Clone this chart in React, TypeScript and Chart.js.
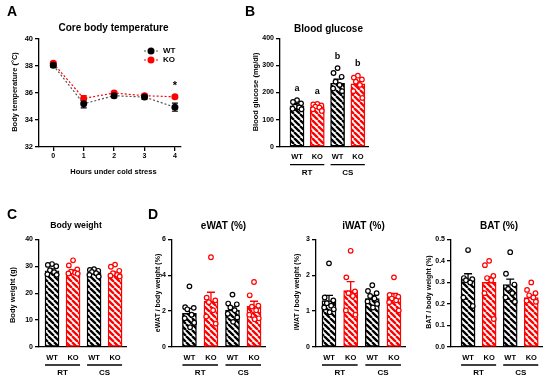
import React, { useEffect, useRef } from "react";
import { Chart, registerables } from "chart.js";
Chart.register(...registerables);

const W = 550;
const H = 381;
const BLACK = "#000000";
const GREY = "#555555";
const RED = "#FF0000";
const FONT = '"Liberation Sans", Arial, sans-serif';

// ---------- Panel A: core body temperature ----------
const HOURS = [0, 1, 2, 3, 4];
const SERIES = ["WT", "KO"];
const TEMP_WT = [38.05, 35.2, 35.8, 35.7, 34.95];
const TEMP_WT_SEM = [0.15, 0.3, 0.15, 0.15, 0.3];
const TEMP_KO = [38.2, 35.6, 36.0, 35.8, 35.72];
const TEMP_KO_SEM = [0.12, 0.2, 0.12, 0.12, 0.1];
const TEMP_SIG = ["", "", "", "", "*"];
const TEMP_TICKS = [32, 34, 36, 38, 40];

// ---------- shared categories ----------
const CATS = ["WT", "KO", "WT", "KO"];
const GROUPS = ["RT", "CS"];

// ---------- Panel B: blood glucose ----------
const GLU_MEAN = [151, 147, 234, 232];
const GLU_SEM = [8, 6, 15, 9];
const GLU_LETTERS = ["a", "a", "b", "b"];
const GLU_WT_RT = [172, 165, 160, 148, 145, 140, 138];
const GLU_KO_RT = [158, 156, 152, 148, 145, 138, 132];
const GLU_WT_CS = [290, 272, 258, 240, 228, 215, 205];
const GLU_KO_CS = [262, 255, 248, 240, 228, 205, 180];

// ---------- Panel C: body weight ----------
const BW_MEAN = [28.3, 27.9, 27.6, 27.3];
const BW_SEM = [0.7, 0.7, 0.4, 0.6];
const BW_WT_RT = [30.8, 30.5, 30.0, 28.5, 27.8, 27.0, 26.8];
const BW_KO_RT = [32.2, 30.3, 28.8, 28.0, 27.6, 27.3, 27.2];
const BW_WT_CS = [28.9, 28.6, 28.3, 27.9, 27.4, 26.8, 26.2];
const BW_KO_CS = [30.6, 29.8, 28.3, 27.4, 26.8, 26.5, 26.2];

// ---------- Panel D: eWAT ----------
const EWAT_MEAN = [1.87, 2.55, 2.05, 2.27];
const EWAT_SEM = [0.28, 0.5, 0.19, 0.28];
const EWAT_WT_RT = [3.38, 2.22, 2.18, 2.1, 1.8, 1.6, 1.35, 1.1];
const EWAT_KO_RT = [5.0, 2.75, 2.6, 2.5, 2.05, 1.7, 1.3];
const EWAT_WT_CS = [2.92, 2.42, 2.38, 2.2, 2.05, 1.85, 1.65, 1.4];
const EWAT_KO_CS = [3.62, 2.88, 2.3, 2.25, 2.05, 1.8, 1.6, 1.55];

// ---------- Panel D: iWAT ----------
const IWAT_MEAN = [1.29, 1.57, 1.35, 1.4];
const IWAT_SEM = [0.15, 0.25, 0.09, 0.09];
const IWAT_WT_RT = [2.33, 1.38, 1.3, 1.22, 1.15, 1.1, 1.05, 0.97];
const IWAT_KO_RT = [2.68, 1.94, 1.55, 1.5, 1.42, 1.02, 0.9];
const IWAT_WT_CS = [1.72, 1.56, 1.5, 1.42, 1.35, 1.27, 1.2, 1.1];
const IWAT_KO_CS = [1.94, 1.45, 1.4, 1.35, 1.3, 1.25, 1.02];

// ---------- Panel D: BAT ----------
const BAT_MEAN = [0.317, 0.3, 0.29, 0.23];
const BAT_SEM = [0.023, 0.025, 0.025, 0.01];
const BAT_WT_RT = [0.45, 0.32, 0.315, 0.31, 0.3, 0.23, 0.19];
const BAT_KO_RT = [0.4, 0.38, 0.33, 0.32, 0.31, 0.25, 0.13];
const BAT_WT_CS = [0.44, 0.34, 0.29, 0.27, 0.25, 0.23, 0.21];
const BAT_KO_CS = [0.3, 0.265, 0.25, 0.24, 0.23, 0.215, 0.21];

// horizontal scatter of the individual dots (in category units)
const JITTER = [0, -0.2, 0.2, -0.1, 0.1, -0.22, 0.22, 0.03];

Chart.defaults.font.family = FONT;
Chart.defaults.color = BLACK;

type TextItem = { t: string; x: number; y: number; size: number; align?: CanvasTextAlign; rot?: boolean };

function drawTexts(ctx: CanvasRenderingContext2D, items: TextItem[]) {
  ctx.save();
  ctx.fillStyle = BLACK;
  ctx.textBaseline = "middle";
  for (const it of items) {
    ctx.font = `bold ${it.size}px ${FONT}`;
    ctx.textAlign = it.align || "center";
    if (it.rot) {
      ctx.save();
      ctx.translate(it.x, it.y);
      ctx.rotate(-Math.PI / 2);
      ctx.fillText(it.t, 0, 0);
      ctx.restore();
    } else {
      ctx.fillText(it.t, it.x, it.y);
    }
  }
  ctx.restore();
}

function makePattern(color: string) {
  const s = 6;
  const c = document.createElement("canvas");
  c.width = s;
  c.height = s;
  const g = c.getContext("2d")!;
  g.fillStyle = "#ffffff";
  g.fillRect(0, 0, s, s);
  g.strokeStyle = color;
  g.lineWidth = 2.3;
  g.beginPath();
  for (let k = -1; k <= 1; k++) {
    g.moveTo(k * s, 0);
    g.lineTo(k * s + s, s);
  }
  g.stroke();
  return g.createPattern(c, "repeat");
}

type Area = { l: number; t: number; r: number; b: number };
const YW = 30;
const XH = 30;

function padFor(a: Area) {
  return { left: a.l - YW, top: a.t, right: W - a.r, bottom: H - a.b - XH };
}

function yScale(min: number, max: number, step: number, fmt?: (v: number) => string, size = 7) {
  return {
    type: "linear",
    min,
    max,
    ticks: {
      stepSize: step,
      font: { size, weight: "bold" },
      color: BLACK,
      padding: 2,
      callback: (v: number) => (fmt ? fmt(v) : String(v)),
    },
    grid: { drawOnChartArea: false, drawTicks: true, tickLength: 4, color: BLACK, lineWidth: 1.3 },
    border: { display: true, color: BLACK, width: 1.3 },
    afterFit: (s: any) => {
      s.width = YW;
    },
  };
}

const baseOptions = {
  animation: false,
  responsive: false,
  devicePixelRatio: 1,
  events: [],
  plugins: { legend: { display: false }, tooltip: { enabled: false } },
};

// ---------------- Panel A -----------------
function tempConfig() {
  const area: Area = { l: 39, t: 39, r: 181, b: 147 };
  const sems = [TEMP_WT_SEM, TEMP_KO_SEM];
  const texts: TextItem[] = [
    { t: "A", x: 7, y: 12, size: 14, align: "left" },
    { t: "B", x: 245, y: 12, size: 14, align: "left" },
    { t: "C", x: 7, y: 215, size: 14, align: "left" },
    { t: "D", x: 148, y: 215, size: 14, align: "left" },
    { t: "Core body temperature", x: 113.5, y: 28, size: 10 },
    { t: "Body temperature (°C)", x: 15, y: 92, size: 7.5, rot: true },
    { t: "Hours under cold stress", x: 113.5, y: 171.5, size: 7.5 },
  ];
  return {
    type: "line",
    data: {
      datasets: [
        {
          label: SERIES[0],
          data: HOURS.map((h, i) => ({ x: h, y: TEMP_WT[i] })),
          borderColor: GREY,
          borderWidth: 1.2,
          borderDash: [2, 2],
          pointRadius: 3.5,
          pointBackgroundColor: BLACK,
          pointBorderColor: BLACK,
          pointBorderWidth: 0,
          tension: 0,
        },
        {
          label: SERIES[1],
          data: HOURS.map((h, i) => ({ x: h, y: TEMP_KO[i] })),
          borderColor: RED,
          borderWidth: 1.2,
          borderDash: [2, 2],
          pointRadius: 3.5,
          pointBackgroundColor: RED,
          pointBorderColor: RED,
          pointBorderWidth: 0,
          tension: 0,
        },
      ],
    },
    options: {
      ...baseOptions,
      layout: { padding: padFor(area) },
      scales: {
        x: {
          type: "linear",
          min: -0.47,
          max: 4.2,
          afterBuildTicks: (s: any) => {
            s.ticks = HOURS.map((h) => ({ value: h }));
          },
          ticks: { font: { size: 7, weight: "bold" }, color: BLACK, padding: 1, maxRotation: 0 },
          grid: { drawOnChartArea: false, drawTicks: true, tickLength: 4, color: BLACK, lineWidth: 1.3 },
          border: { display: true, color: BLACK, width: 1.3 },
          afterFit: (s: any) => {
            s.height = XH;
          },
        },
        y: {
          ...yScale(32, 40, 2, undefined, 7.5),
          afterBuildTicks: (s: any) => {
            s.ticks = TEMP_TICKS.map((v) => ({ value: v }));
          },
        },
      },
    },
    plugins: [
      {
        id: "errA",
        beforeDatasetsDraw(chart: any) {
          const ctx = chart.ctx;
          const xs = chart.scales.x;
          const ys = chart.scales.y;
          ctx.save();
          chart.data.datasets.forEach((ds: any, di: number) => {
            ctx.strokeStyle = ds.pointBackgroundColor;
            ctx.lineWidth = 1.2;
            ds.data.forEach((p: any, i: number) => {
              const x = xs.getPixelForValue(p.x);
              const y1 = ys.getPixelForValue(p.y + sems[di][i]);
              const y2 = ys.getPixelForValue(p.y - sems[di][i]);
              ctx.beginPath();
              ctx.moveTo(x, y1);
              ctx.lineTo(x, y2);
              ctx.moveTo(x - 3, y1);
              ctx.lineTo(x + 3, y1);
              ctx.moveTo(x - 3, y2);
              ctx.lineTo(x + 3, y2);
              ctx.stroke();
            });
          });
          ctx.restore();
        },
        afterDraw(chart: any) {
          const ctx = chart.ctx;
          const xs = chart.scales.x;
          const ys = chart.scales.y;
          ctx.save();
          chart.data.datasets.forEach((ds: any, i: number) => {
            const y = 51 + i * 9;
            ctx.strokeStyle = ds.borderColor;
            ctx.lineWidth = 1.2;
            ctx.setLineDash([2, 2]);
            ctx.beginPath();
            ctx.moveTo(144, y);
            ctx.lineTo(158, y);
            ctx.stroke();
            ctx.setLineDash([]);
            ctx.fillStyle = ds.pointBackgroundColor;
            ctx.beginPath();
            ctx.arc(151, y, 3.5, 0, Math.PI * 2);
            ctx.fill();
          });
          ctx.restore();
          const items: TextItem[] = [...texts];
          chart.data.datasets.forEach((ds: any, i: number) => {
            items.push({ t: ds.label, x: 163, y: 51 + i * 9, size: 8, align: "left" });
          });
          TEMP_SIG.forEach((s, i) => {
            if (!s) return;
            const top = Math.max(TEMP_WT[i] + TEMP_WT_SEM[i], TEMP_KO[i] + TEMP_KO_SEM[i]);
            items.push({ t: s, x: xs.getPixelForValue(HOURS[i]), y: ys.getPixelForValue(top) - 9, size: 11 });
          });
          drawTexts(ctx, items);
        },
      },
    ],
  };
}

// ---------------- Bar panels -----------------
type BarSpec = {
  area: Area;
  xMin: number;
  xMax: number;
  yMin: number;
  yMax: number;
  yStep: number;
  fmt?: (v: number) => string;
  means: number[];
  sems: number[];
  dots: number[][];
  letters?: string[];
  texts: TextItem[];
};

function barConfig(spec: BarSpec) {
  const patB = makePattern(BLACK);
  const patR = makePattern(RED);
  const colors = CATS.map((_, i) => (i % 2 === 0 ? BLACK : RED));
  const pats = CATS.map((_, i) => (i % 2 === 0 ? patB : patR));
  const datasets: any[] = spec.dots.map((vals, i) => ({
    type: "scatter",
    data: vals.map((v, j) => ({ x: i + JITTER[j % JITTER.length], y: v })),
    pointRadius: 2.3,
    pointBorderWidth: 1.2,
    pointBackgroundColor: "#ffffff",
    pointBorderColor: colors[i],
    order: 0,
  }));
  datasets.push({
    type: "bar",
    data: spec.means.map((m, i) => ({ x: i, y: m })),
    backgroundColor: pats,
    borderColor: colors,
    borderWidth: 1.4,
    borderSkipped: false,
    barThickness: 14,
    order: 1,
  });
  return {
    type: "bar",
    data: { datasets },
    options: {
      ...baseOptions,
      layout: { padding: padFor(spec.area) },
      scales: {
        x: {
          type: "linear",
          min: spec.xMin,
          max: spec.xMax,
          offset: false,
          afterBuildTicks: (s: any) => {
            s.ticks = CATS.map((_, i) => ({ value: i }));
          },
          ticks: {
            font: { size: 7.5, weight: "bold" },
            color: BLACK,
            padding: 6,
            maxRotation: 0,
            autoSkip: false,
            callback: (v: number) => CATS[Math.round(v)] ?? "",
          },
          grid: { display: false, drawTicks: false, offset: false },
          border: { display: true, color: BLACK, width: 1.3 },
          afterFit: (s: any) => {
            s.height = XH;
          },
        },
        y: yScale(spec.yMin, spec.yMax, spec.yStep, spec.fmt),
      },
    },
    plugins: [
      {
        id: "errBars",
        afterDatasetDraw(chart: any, args: any) {
          const ds = chart.data.datasets[args.index];
          if (ds.type !== "bar") return;
          const ctx = chart.ctx;
          const xs = chart.scales.x;
          const ys = chart.scales.y;
          ctx.save();
          ctx.lineWidth = 1.3;
          spec.means.forEach((m, i) => {
            const x = xs.getPixelForValue(i);
            const y0 = ys.getPixelForValue(m);
            const y1 = ys.getPixelForValue(m + spec.sems[i]);
            ctx.strokeStyle = colors[i];
            ctx.beginPath();
            ctx.moveTo(x, y0);
            ctx.lineTo(x, y1);
            ctx.moveTo(x - 4, y1);
            ctx.lineTo(x + 4, y1);
            ctx.stroke();
          });
          ctx.restore();
        },
        afterDraw(chart: any) {
          const ctx = chart.ctx;
          const xs = chart.scales.x;
          const ys = chart.scales.y;
          const bottom = chart.chartArea.bottom;
          const items: TextItem[] = [...spec.texts];
          ctx.save();
          ctx.strokeStyle = BLACK;
          ctx.lineWidth = 1.3;
          GROUPS.forEach((g, gi) => {
            const x1 = xs.getPixelForValue(gi * 2) - 7;
            const x2 = xs.getPixelForValue(gi * 2 + 1) + 7;
            ctx.beginPath();
            ctx.moveTo(x1, bottom + 18);
            ctx.lineTo(x2, bottom + 18);
            ctx.stroke();
            items.push({ t: g, x: (x1 + x2) / 2, y: bottom + 26, size: 8 });
          });
          ctx.restore();
          if (spec.letters) {
            spec.letters.forEach((l, i) => {
              const top = Math.max(...spec.dots[i], spec.means[i] + spec.sems[i]);
              items.push({ t: l, x: xs.getPixelForValue(i), y: ys.getPixelForValue(top) - 12, size: 9 });
            });
          }
          drawTexts(ctx, items);
        },
      },
    ],
  };
}

function glucoseConfig() {
  return barConfig({
    area: { l: 280, t: 38.3, r: 368, b: 146.7 },
    xMin: -0.84,
    xMax: 3.5,
    yMin: 0,
    yMax: 400,
    yStep: 100,
    means: GLU_MEAN,
    sems: GLU_SEM,
    dots: [GLU_WT_RT, GLU_KO_RT, GLU_WT_CS, GLU_KO_CS],
    letters: GLU_LETTERS,
    texts: [
      { t: "Blood glucose", x: 328.5, y: 29, size: 10 },
      { t: "Blood glucose (mg/dl)", x: 255.5, y: 92, size: 7.5, rot: true },
    ],
  });
}

function weightConfig() {
  return barConfig({
    area: { l: 39, t: 239.3, r: 126, b: 347 },
    xMin: -0.62,
    xMax: 3.52,
    yMin: 0,
    yMax: 40,
    yStep: 10,
    means: BW_MEAN,
    sems: BW_SEM,
    dots: [BW_WT_RT, BW_KO_RT, BW_WT_CS, BW_KO_CS],
    texts: [
      { t: "Body weight", x: 76, y: 225.5, size: 8.7 },
      { t: "Body weight (g)", x: 13, y: 295, size: 7.5, rot: true },
    ],
  });
}

function ewatConfig() {
  return barConfig({
    area: { l: 172, t: 239.3, r: 265, b: 347 },
    xMin: -0.81,
    xMax: 3.51,
    yMin: 0,
    yMax: 6,
    yStep: 2,
    means: EWAT_MEAN,
    sems: EWAT_SEM,
    dots: [EWAT_WT_RT, EWAT_KO_RT, EWAT_WT_CS, EWAT_KO_CS],
    texts: [
      { t: "eWAT (%)", x: 223.5, y: 226, size: 10 },
      { t: "eWAT / body weight (%)", x: 158, y: 293, size: 7, rot: true },
    ],
  });
}

function iwatConfig() {
  return barConfig({
    area: { l: 316, t: 239.3, r: 405, b: 347 },
    xMin: -0.6,
    xMax: 3.51,
    yMin: 0,
    yMax: 3,
    yStep: 1,
    means: IWAT_MEAN,
    sems: IWAT_SEM,
    dots: [IWAT_WT_RT, IWAT_KO_RT, IWAT_WT_CS, IWAT_KO_CS],
    texts: [
      { t: "iWAT (%)", x: 363.5, y: 226, size: 10 },
      { t: "iWAT / body weight (%)", x: 297, y: 292, size: 7, rot: true },
    ],
  });
}

function batConfig() {
  return barConfig({
    area: { l: 451, t: 239.3, r: 542, b: 347 },
    xMin: -0.81,
    xMax: 3.51,
    yMin: 0,
    yMax: 0.5,
    yStep: 0.1,
    fmt: (v: number) => v.toFixed(1),
    means: BAT_MEAN,
    sems: BAT_SEM,
    dots: [BAT_WT_RT, BAT_KO_RT, BAT_WT_CS, BAT_KO_CS],
    texts: [
      { t: "BAT (%)", x: 499, y: 226, size: 10 },
      { t: "BAT / body weight (%)", x: 428.7, y: 292, size: 7, rot: true },
    ],
  });
}

function ChartCanvas({ make }: { make: () => any }) {
  const ref = useRef<HTMLCanvasElement>(null);
  useEffect(() => {
    const chart = new Chart(ref.current as HTMLCanvasElement, make());
    return () => chart.destroy();
  }, []);
  return (
    <canvas
      ref={ref}
      width={W}
      height={H}
      style={{ position: "absolute", left: 0, top: 0, width: W, height: H }}
    />
  );
}

export default function App() {
  return (
    <div style={{ position: "absolute", left: 0, top: 0, width: W, height: H, background: "#ffffff", overflow: "hidden" }}>
      <ChartCanvas make={tempConfig} />
      <ChartCanvas make={glucoseConfig} />
      <ChartCanvas make={weightConfig} />
      <ChartCanvas make={ewatConfig} />
      <ChartCanvas make={iwatConfig} />
      <ChartCanvas make={batConfig} />
    </div>
  );
}
